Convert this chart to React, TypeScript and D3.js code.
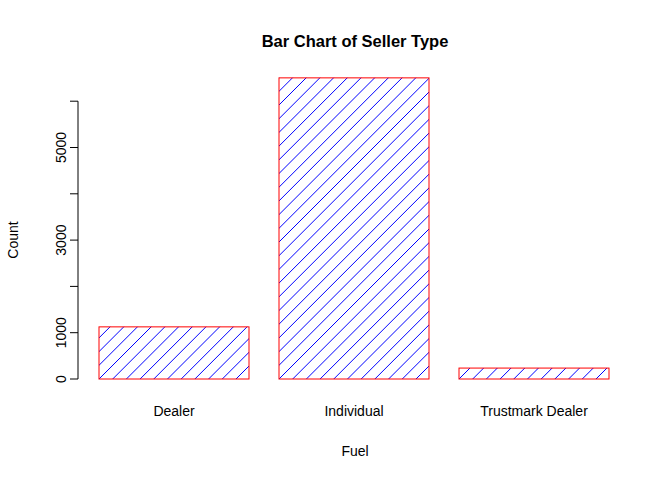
import React from "react";
import * as d3 from "d3";

const categories = ["Dealer", "Individual", "Trustmark Dealer"];
const counts = [1126, 6504, 236];
const yTicks = [0, 1000, 3000, 5000];
const yMinorTicks = [0, 1000, 2000, 3000, 4000, 5000, 6000];

export default function App() {
  const W = 672, H = 480;
  const y = d3.scaleLinear().domain([0, 6000]).range([379, 101.2]);
  const x = d3.scaleLinear().domain([0.2, 1.2]).range([99, 249]);
  const font = "Liberation Sans, Arial, sans-serif";
  const spacing = 13.7;
  return (
    <svg width={W} height={H} style={{ display: "block", position: "absolute", left: 0, top: 0 }}>
      <rect width={W} height={H} fill="white" />
      <defs>
        {categories.map((c, i) => {
          const x0 = x(0.2 + i * 1.2), x1 = x(1.2 + i * 1.2);
          return (
            <clipPath id={"clip" + i} key={c}>
              <rect x={x0} y={y(counts[i])} width={x1 - x0} height={y(0) - y(counts[i])} />
            </clipPath>
          );
        })}
      </defs>
      {categories.map((c, i) => {
        const x0 = x(0.2 + i * 1.2), x1 = x(1.2 + i * 1.2);
        const top = y(counts[i]), bot = y(0);
        const h = bot - top;
        const lines = [];
        for (let k = -Math.ceil(h / spacing) - 1; k * spacing < x1 - x0 + 2; k++) {
          const sx = x0 + k * spacing;
          lines.push(<line key={k} x1={sx} y1={bot} x2={sx + h + 2} y2={top - 2} stroke="blue" strokeWidth={1} />);
        }
        return (
          <g key={c}>
            <g clipPath={`url(#clip${i})`}>{lines}</g>
            <rect x={x0} y={top} width={x1 - x0} height={h} fill="none" stroke="red" strokeWidth={1} />
            <text x={(x0 + x1) / 2} y={416} textAnchor="middle" fontFamily={font} fontSize={14}>{c}</text>
          </g>
        );
      })}
      <line x1={78} x2={78} y1={y(0)} y2={y(6000)} stroke="black" />
      {yMinorTicks.map(t => (
        <line key={t} x1={70} x2={78} y1={y(t)} y2={y(t)} stroke="black" />
      ))}
      {yTicks.map(t => (
        <text key={t} transform={`translate(66,${y(t)}) rotate(-90)`} textAnchor="middle" fontFamily={font} fontSize={14}>{t}</text>
      ))}
      <text transform="translate(18,240) rotate(-90)" textAnchor="middle" fontFamily={font} fontSize={14}>Count</text>
      <text x={355} y={456} textAnchor="middle" fontFamily={font} fontSize={14}>Fuel</text>
      <text x={355} y={47} textAnchor="middle" fontFamily={font} fontSize={16.5} fontWeight="bold">Bar Chart of Seller Type</text>
    </svg>
  );
}
